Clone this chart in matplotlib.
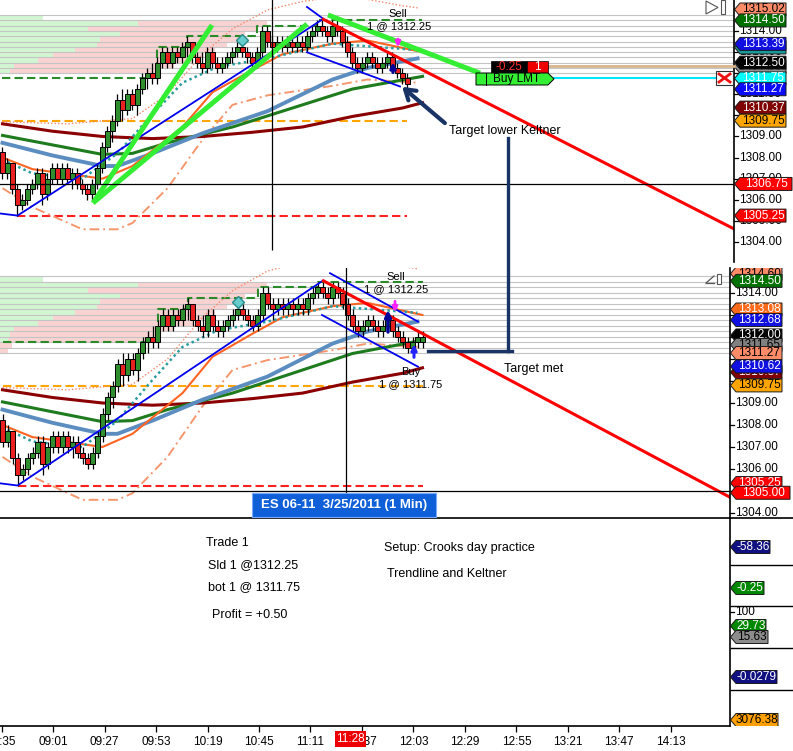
import matplotlib
matplotlib.use('Agg')
import matplotlib.pyplot as plt
from matplotlib.patches import Polygon, Rectangle
from matplotlib.lines import Line2D

plt.rcParams['font.family'] = ['Liberation Sans', 'DejaVu Sans']

# ---- candles (ES 06-11, 3/25/2011), one row per bar ----
opens = [1308.25, 1307.25, 1307.75, 1306.50, 1305.75, 1306.00, 1306.50, 1306.75, 1307.25, 1306.25,
         1307.00, 1307.50, 1307.00, 1307.50, 1307.00, 1307.25, 1306.75, 1306.50, 1306.25, 1306.75,
         1307.50, 1308.50, 1309.25, 1309.75, 1310.75, 1310.25, 1311.00, 1310.50, 1311.25, 1311.75,
         1312.00, 1311.75, 1312.50, 1313.00, 1312.50, 1313.00, 1312.75, 1313.25, 1313.50, 1312.75,
         1312.50, 1312.25, 1313.00, 1312.50, 1312.25, 1312.50, 1312.75, 1313.00, 1313.25, 1313.00,
         1312.75, 1312.50, 1313.00, 1314.00, 1313.50, 1313.25, 1313.50, 1313.25, 1313.50, 1313.25,
         1313.50, 1313.25, 1313.75, 1314.00, 1314.25, 1314.00, 1313.75, 1314.25, 1314.00, 1313.50,
         1313.00, 1312.50, 1312.25, 1312.50, 1312.75, 1312.50, 1312.25, 1312.50, 1312.75, 1312.25,
         1312.00, 1311.75, 1311.50, 1311.75, 1311.75]
highs = [1308.50, 1308.00, 1307.75, 1306.75, 1306.25, 1306.75, 1307.00, 1307.50, 1307.50, 1307.25,
         1307.75, 1307.75, 1307.75, 1307.75, 1307.50, 1307.50, 1307.00, 1306.75, 1307.00, 1307.75,
         1308.75, 1309.50, 1310.00, 1311.00, 1311.25, 1311.25, 1311.25, 1311.50, 1312.00, 1312.25,
         1312.50, 1312.75, 1313.25, 1313.25, 1313.25, 1313.25, 1313.50, 1313.75, 1313.50, 1313.00,
         1313.00, 1313.25, 1313.25, 1312.75, 1312.75, 1313.00, 1313.25, 1313.50, 1313.50, 1313.25,
         1313.00, 1313.25, 1314.25, 1314.25, 1313.75, 1313.75, 1313.75, 1313.75, 1313.75, 1313.75,
         1313.75, 1314.00, 1314.25, 1314.50, 1314.50, 1314.25, 1314.50, 1314.50, 1314.25, 1313.75,
         1313.25, 1312.75, 1312.75, 1313.00, 1313.00, 1312.75, 1312.75, 1313.00, 1313.00, 1312.50,
         1312.25, 1312.00, 1312.00, 1312.25, 1312.25]
lows = [1307.00, 1307.00, 1306.25, 1305.25, 1305.50, 1305.75, 1306.25, 1306.50, 1305.75, 1306.00,
        1306.75, 1306.75, 1306.75, 1306.75, 1306.50, 1306.50, 1306.25, 1306.00, 1306.00, 1306.50,
        1307.25, 1308.25, 1308.75, 1309.50, 1309.75, 1310.00, 1310.25, 1310.00, 1311.00, 1311.25,
        1311.50, 1311.50, 1312.25, 1312.25, 1312.25, 1312.50, 1312.50, 1312.75, 1312.50, 1312.25,
        1312.00, 1312.00, 1312.25, 1312.00, 1312.00, 1312.25, 1312.50, 1312.75, 1312.75, 1312.50,
        1312.25, 1312.25, 1312.75, 1313.25, 1312.75, 1313.00, 1313.00, 1313.00, 1313.00, 1313.00,
        1313.00, 1313.00, 1313.50, 1313.75, 1313.75, 1313.50, 1313.50, 1313.75, 1313.25, 1312.75,
        1312.25, 1312.00, 1312.00, 1312.25, 1312.25, 1312.00, 1312.00, 1312.25, 1312.00, 1311.75,
        1311.50, 1311.25, 1311.25, 1311.50, 1311.50]
closes = [1307.25, 1307.75, 1306.50, 1305.75, 1306.00, 1306.50, 1306.75, 1307.25, 1306.25, 1307.00,
          1307.50, 1307.00, 1307.50, 1307.00, 1307.25, 1306.75, 1306.50, 1306.25, 1306.75, 1307.50,
          1308.50, 1309.25, 1309.75, 1310.75, 1310.25, 1311.00, 1310.50, 1311.25, 1311.75, 1312.00,
          1311.75, 1312.50, 1313.00, 1312.50, 1313.00, 1312.75, 1313.25, 1313.50, 1312.75, 1312.50,
          1312.25, 1313.00, 1312.50, 1312.25, 1312.50, 1312.75, 1313.00, 1313.25, 1313.00, 1312.75,
          1312.50, 1313.00, 1314.00, 1313.50, 1313.25, 1313.50, 1313.25, 1313.50, 1313.25, 1313.50,
          1313.25, 1313.75, 1314.00, 1314.25, 1314.00, 1313.75, 1314.25, 1314.00, 1313.50, 1313.00,
          1312.50, 1312.25, 1312.50, 1312.75, 1312.50, 1312.25, 1312.50, 1312.75, 1312.25, 1312.00,
          1311.75, 1311.50, 1311.75, 1312.00, 1312.00]

# ---- indicator lines, (bar, price) vertices ----
ma_slow_x = [0, 10, 20, 30, 40, 50, 60, 70, 80, 84]
ma_slow_y = [1309.6, 1309.25, 1309.0, 1308.9, 1309.0, 1309.2, 1309.45, 1309.95, 1310.35, 1310.6]
ma_mid_x = [0, 10, 20, 26, 33, 46, 60, 70, 84]
ma_mid_y = [1309.05, 1308.6, 1308.15, 1308.2, 1308.7, 1309.45, 1310.5, 1311.25, 1311.85]
kelt_mid_x = [0, 10, 20, 23, 30, 40, 53, 66, 73, 83]
kelt_mid_y = [1308.7, 1308.1, 1307.6, 1307.6, 1308.2, 1309.15, 1310.2, 1311.7, 1312.25, 1312.7]
ema_x = [0, 6, 20, 26, 36, 42, 50, 56, 66, 73, 80, 84]
ema_y = [1308.0, 1307.45, 1307.0, 1307.6, 1309.45, 1311.1, 1312.15, 1312.9, 1313.4, 1313.55, 1313.2, 1313.0]
fast_x = [0, 6, 16, 23, 30, 36, 43, 53, 66, 83]
fast_y = [1307.9, 1307.25, 1307.0, 1308.2, 1310.05, 1311.55, 1312.3, 1312.7, 1313.4, 1313.1]
band_up_x = [0, 13, 26, 33, 40, 46, 53, 60, 66, 73, 80, 83]
band_up_y = [1309.7, 1309.6, 1309.85, 1311.0, 1312.9, 1314.1, 1315.0, 1315.4, 1315.6, 1315.5, 1315.2, 1315.1]
band_dn_x = [0, 6, 16, 23, 26, 33, 40, 46, 53, 66, 73, 83]
band_dn_y = [1306.55, 1305.65, 1304.6, 1304.6, 1304.9, 1306.55, 1308.85, 1310.5, 1310.95, 1311.4, 1311.7, 1311.55]
swing_hi_x = [0, 31, 37, 51, 63, 84]
swing_hi_y = [1311.75, 1313.25, 1313.75, 1314.25, 1314.5, 1314.5]
open_level = 1309.75
low_level = 1305.25

# ---- drawn trendlines ----
blue_up_x = [-0.5, 3.0, 64.0]
blue_up_y = [1305.35, 1305.25, 1314.55]
red_tl_x = [64.2, 146.3]
red_tl_y = [1314.55, 1304.62]

# ---- volume profile (upper edge of each 0.25 row) ----
prof_top = [1314.75, 1314.50, 1314.25, 1314.00, 1313.75, 1313.50, 1313.25,
            1313.00, 1312.75, 1312.50, 1312.25, 1312.00, 1311.75, 1311.50]
buy_vol = [430, 1380, 880, 1200, 1000, 970, 750, 530, 380, 140, 100, 80, 0, 0]
sell_vol = [0, 1290, 1700, 1250, 1400, 1300, 1400, 1500, 1550, 1600, 1500, 1400, 120, 80]

times = [515, 541, 567, 593, 619, 645, 671, 697, 723, 749, 775, 801, 827, 853]

W, H = 793, 751
fig = plt.figure(figsize=(W / 100, H / 100), dpi=100)
fig.patch.set_facecolor('white')

UP, DN = '#2f8f2f', '#e82020'


def px_axes(x, y, w, h, z=1):
    return fig.add_axes([x / W, 1 - (y + h) / H, w / W, h / H], zorder=z)


def frect(x, y, w, h, **kw):
    fig.add_artist(Rectangle((x / W, 1 - (y + h) / H), w / W, h / H,
                             transform=fig.transFigure, zorder=6, **kw))


def fpoly(pts, **kw):
    fig.add_artist(Polygon([(x / W, 1 - y / H) for x, y in pts],
                           transform=fig.transFigure, zorder=6, **kw))


def fline(xs, ys, **kw):
    fig.add_artist(Line2D([x / W for x in xs], [1 - y / H for y in ys],
                          transform=fig.transFigure, zorder=6, **kw))


def ftext(x, y, s, **kw):
    kw.setdefault('fontsize', 9)
    kw.setdefault('va', 'center')
    fig.text(x / W, 1 - y / H, s, zorder=7, **kw)


def price_panel(rect, ylim, nbars, nrows):
    x, y, w, h = rect
    xlim = (-0.5, -0.5 + w / 5)
    pa = px_axes(x, y, w, h, z=0)
    pa.set_xlim(0, w * 10)
    pa.set_ylim(*ylim)
    pa.axis('off')
    for i in range(nrows):
        yc = prof_top[i] - 0.125
        pa.barh(yc, buy_vol[i], height=0.25, left=0, color='#d2f5d2', lw=0)
        pa.barh(yc, sell_vol[i], height=0.25, left=buy_vol[i], color='#f9d2d2', lw=0)
    for p in prof_top[:nrows] + [prof_top[nrows - 1] - 0.25]:
        pa.axhline(p, color='#c4c4c4', lw=0.8)

    ax = px_axes(x, y, w, h, z=1)
    ax.patch.set_alpha(0)
    ax.set_xlim(*xlim)
    ax.set_ylim(*ylim)
    ax.axis('off')
    n = nbars
    ax.hlines(open_level, 0, n - 1, color='#ffa500', lw=1.5, ls=(0, (4, 2)), zorder=2)
    ax.hlines(low_level, 3, n - 1, color='#ff2020', lw=1.5, ls=(0, (4, 2)), zorder=2)
    ax.step(swing_hi_x, swing_hi_y, where='post', color='#2a8a2a', lw=1.5, ls=(0, (4, 2)), zorder=2)
    ax.plot(band_up_x, band_up_y, color='#f28a6c', lw=1.0, ls=(0, (1, 1.5)), zorder=3)
    ax.plot(band_dn_x, band_dn_y, color='#f4966e', lw=1.4, ls=(0, (5, 2, 1, 2)), zorder=3)
    ax.plot(ma_slow_x, ma_slow_y, color='#8b0000', lw=2.2, zorder=3)
    ax.plot(ma_mid_x, ma_mid_y, color='#1e7b1e', lw=2.2, zorder=3)
    ax.plot(kelt_mid_x, kelt_mid_y, color='#5b8dc0', lw=2.8, zorder=3)
    ax.plot(ema_x, ema_y, color='#ff6422', lw=1.5, zorder=3)
    ax.plot(fast_x, fast_y, color='#2a9d9d', lw=1.8, ls=(0, (1, 1.3)), zorder=3)

    ax.vlines(range(n), lows[:n], highs[:n], color='black', lw=0.9, zorder=4)
    for i in range(n):
        o, c = opens[i], closes[i]
        ax.bar(i, abs(c - o), bottom=min(o, c), width=0.82,
               color=UP if c > o else DN, edgecolor='black', lw=0.7, zorder=5)

    ax.plot(blue_up_x, blue_up_y, color='#0000ee', lw=1.3, zorder=6)
    ax.plot(red_tl_x, red_tl_y, color='#ff0000', lw=2.2, zorder=7)
    return ax


def tag_axes(rect, ylim):
    x, y, w, h = rect
    t = px_axes(x, y, w, h, z=2)
    t.set_xlim(0, w)
    t.set_ylim(*ylim)
    for s in ('top', 'right', 'bottom'):
        t.spines[s].set_visible(False)
    t.spines['left'].set_linewidth(1.2)
    t.set_xticks([])
    t.set_yticks([])
    t.patch.set_alpha(0)
    return t


def ticks(t, vals, labels=None):
    labels = labels or ['{:.2f}'.format(v) for v in vals]
    for v, s in zip(vals, labels):
        t.plot([0, 4], [v, v], color='black', lw=0.9, clip_on=False, zorder=0.5)
        t.text(5, v, s, fontsize=8.5, va='center', ha='left', zorder=0.6)


def draw_tags(t, ys, labels, fcs, tcs, hh, widths):
    for k, (y, s, fc, tc, w) in enumerate(zip(ys, labels, fcs, tcs, widths)):
        z = 2 + 2 * k
        pts = [(0.5, y), (6, y + hh), (w, y + hh), (w, y - hh), (6, y - hh)]
        t.add_patch(Polygon(pts, closed=True, fc=fc, ec='#1a1a1a', lw=0.7, zorder=z))
        t.text(6 + (w - 6) / 2, y, s, color=tc, fontsize=8.5, ha='center', va='center', zorder=z + 1)


# ================= top panel (before the exit) =================
top_ylim = (1303.05, 1315.47)
ax1 = price_panel((0, 0, 734, 262), top_ylim, 82, 11)
ax1.plot([60.9, 64.5], [1315.14, 1314.52], color='#0000ee', lw=1.3, zorder=6)
ax1.plot([60.9, 79.5], [1312.99, 1311.37], color='#0000ee', lw=1.3, zorder=6)
ax1.plot([18.1, 41.9], [1305.85, 1314.28], color='#33ee33', lw=3.6, zorder=8, solid_capstyle='butt')
ax1.plot([18.1, 60.9], [1305.85, 1314.33], color='#33ee33', lw=3.6, zorder=8, solid_capstyle='butt')
ax1.plot([65.1, 95.5], [1314.76, 1312.0], color='#33ee33', lw=3.6, zorder=8, solid_capstyle='butt')
ax1.vlines(53.9, 1303.62, 1316, color='black', lw=0.9, zorder=9)
ax1.axhline(1306.75, color='black', lw=0.9, zorder=9)
ax1.plot(47.9, 1313.57, 'D', ms=6, mfc='#66cccc', mec='#2a8a8a', zorder=9)
ax1.annotate('', xy=(79.1, 1313.1), xytext=(79.1, 1313.75),
             arrowprops=dict(arrowstyle='-|>', color='#ff22ff', lw=2, mutation_scale=7), zorder=9)
ax1.annotate('', xy=(78.1, 1312.65), xytext=(78.1, 1311.9),
             arrowprops=dict(arrowstyle='-|>', color='#000099', lw=2.2, mutation_scale=8), zorder=9)
ax1.annotate('', xy=(79.5, 1311.44), xytext=(88.9, 1309.55),
             arrowprops=dict(arrowstyle='->,head_length=0.7,head_width=0.45', color='#1a3366', lw=3),
             zorder=9)

t1 = tag_axes((734, 0, 59, 262), top_ylim)
ticks(t1, [1314, 1313, 1312, 1311, 1310, 1309, 1308, 1307, 1306, 1305, 1304])
top_tag_y = [1315.02, 1314.50, 1313.22, 1313.39, 1312.30, 1312.50, 1311.75, 1311.24, 1310.37, 1309.75, 1306.75, 1305.25]
top_tag_txt = ['1315.02', '1314.50', '1313.22', '1313.39', '1312.30', '1312.50', '1311.75', '1311.27',
               '1310.37', '1309.75', '1306.75', '1305.25']
top_tag_fc = ['#ff8c69', '#007000', '#1a9a9a', '#1010e0', '#909090', '#000000', '#00ffff', '#0a0aff',
              '#800000', '#ffa500', '#ff0000', '#ff0000']
top_tag_tc = ['black', 'white', 'white', 'white', 'white', 'white', 'white', 'white',
              'white', 'black', 'white', 'white']
draw_tags(t1, top_tag_y, top_tag_txt, top_tag_fc, top_tag_tc, 6.5 / 21.1,
          [58 if s == '1306.75' else 52 for s in top_tag_txt])

# ================= lower panel (target met) =================
low_ylim = (1303.773, 1315.136)
ax2 = price_panel((0, 268, 730, 250), low_ylim, 85, 14)
ax2.plot([65.5, 83.1], [1314.9, 1312.7], color='#0000ee', lw=1.3, zorder=6)
ax2.plot([63.9, 83.1], [1313.0, 1310.65], color='#0000ee', lw=1.3, zorder=6)
ax2.vlines(68.7, 1303.0, 1316, color='black', lw=0.9, zorder=9)
ax2.axhline(1305.0, color='black', lw=0.9, zorder=9)
ax2.plot(47.1, 1313.6, 'D', ms=6, mfc='#66cccc', mec='#2a8a8a', zorder=9)
ax2.annotate('', xy=(78.5, 1313.0), xytext=(78.5, 1313.75),
             arrowprops=dict(arrowstyle='-|>', color='#ff22ff', lw=2, mutation_scale=7), zorder=9)
ax2.annotate('', xy=(77.1, 1313.35), xytext=(77.1, 1312.1),
             arrowprops=dict(arrowstyle='-|>', color='#000099', lw=2.4, mutation_scale=9), zorder=9)
ax2.annotate('', xy=(82.3, 1311.8), xytext=(82.3, 1310.95),
             arrowprops=dict(arrowstyle='-|>', color='#2222ff', lw=2.2, mutation_scale=8), zorder=9)

t2 = tag_axes((730, 268, 63, 250), low_ylim)
ticks(t2, [1314, 1313, 1312, 1311, 1310, 1309, 1308, 1307, 1306, 1305, 1304])
low_tag_y = [1314.88, 1314.55, 1313.25, 1312.77, 1312.07, 1311.64, 1311.27, 1310.40, 1310.66, 1309.80, 1305.36, 1304.92]
low_tag_txt = ['1314.60', '1314.50', '1313.08', '1312.68', '1312.00', '1311.65', '1311.27', '1310.37',
               '1310.62', '1309.75', '1305.25', '1305.00']
low_tag_fc = ['#ff8c69', '#007000', '#ff6a1a', '#1010e0', '#000000', '#808080', '#ff8c69', '#800000',
              '#1010e0', '#ffa500', '#ff0000', '#ff0000']
low_tag_tc = ['black', 'white', 'white', 'white', 'white', 'black', 'black', 'white',
              'white', 'black', 'white', 'white']
draw_tags(t2, low_tag_y, low_tag_txt, low_tag_fc, low_tag_tc, 6.5 / 22,
          [60 if s == '1305.00' else 52 for s in low_tag_txt])

# ================= indicator strip + time axis =================
axt = px_axes(0, 518, 730, 208, z=1)
axt.set_xlim(514.2, 514.2 + 730 / 1.98)
axt.set_ylim(0, 1)
for s in ('top', 'right', 'left'):
    axt.spines[s].set_visible(False)
axt.spines['bottom'].set_linewidth(1.2)
axt.set_yticks([])
axt.set_xticks(times)
axt.set_xticklabels(['%02d:%02d' % (m // 60, m % 60) for m in times], fontsize=8.5)
axt.tick_params(axis='x', length=4, width=0.9, pad=3)

t3 = tag_axes((730, 518, 63, 208), (208, 0))
t3.hlines([47, 88, 130, 172], 0, 63, color='black', lw=1)
ticks(t3, [94], ['100'])
ind_y = [29, 70, 108, 119, 159, 202]
ind_txt = ['-58.36', '-0.25', '29.73', '15.63', '-0.0279', '3076.38']
ind_fc = ['#101080', '#008800', '#008800', '#8c8c8c', '#101080', '#ffa000']
ind_tc = ['white', 'white', 'white', 'black', 'white', 'black']
ind_w = [40, 34, 36, 38, 47, 48]
draw_tags(t3, ind_y, ind_txt, ind_fc, ind_tc, 6.5, ind_w)

fline([0, 793], [518, 518], color='black', lw=1.2)

# ================= order widgets, notes =================
fline([548, 734], [66, 66], color='#d8b48c', lw=2)
fline([554, 716], [78, 78], color='#00e5ff', lw=1.5)
frect(491, 61, 36, 12, fc='black', ec='black', lw=0.5)
ftext(509, 67, '-0.25', color='#ff3030', ha='center', fontsize=8.5)
frect(527, 61, 21, 12, fc='#ee0000', ec='black', lw=0.5)
ftext(537.5, 67, '1', color='white', ha='center', fontsize=8.5)
fpoly([(476, 73), (548, 73), (554, 79), (548, 85), (476, 85)], fc='#33ee33', ec='black', lw=0.7)
fline([486, 486], [73, 85], color='black', lw=0.7)
ftext(517, 79, 'Buy LMT', ha='center', fontsize=8.5)
frect(716, 71, 17, 14, fc='white', ec='#333333', lw=0.8)
fline([719, 730], [74, 82], color='#ee1111', lw=2)
fline([719, 730], [82, 74], color='#ee1111', lw=2)
fpoly([(706, 1), (706, 14), (718, 7.5)], fc='white', ec='#555555', lw=0.8)
frect(721, 0, 4, 14, fc='white', ec='#555555', lw=0.8)
fline([706, 714], [283, 276], color='#555555', lw=0.9)
fline([706, 714], [283, 283], color='#555555', lw=0.9)
frect(717, 274, 4, 10, fc='white', ec='#555555', lw=0.8)

fline([508, 508], [138, 351], color='#1a3366', lw=2.4)
fline([428, 512], [351, 351], color='#1a3366', lw=2.4)

ftext(398, 14, 'Sell', ha='center', fontsize=8)
ftext(399, 26, '1 @ 1312.25', ha='center', fontsize=8)
ftext(505, 131, 'Target lower Keltner', ha='center', fontsize=9)
ftext(396, 277, 'Sell', ha='center', fontsize=8)
ftext(396, 289, '1 @ 1312.25', ha='center', fontsize=8)
ftext(411, 372, 'Buy', ha='center', fontsize=8)
ftext(411, 384, '1 @ 1311.75', ha='center', fontsize=8)
ftext(534, 369, 'Target met', ha='center', fontsize=9)

frect(252, 493, 184, 24, fc='#0e5fd8', ec='#7aa8ff', lw=0.8)
ftext(344, 505, 'ES 06-11  3/25/2011 (1 Min)', ha='center', color='white',
      fontsize=9.5, fontweight='bold')

ftext(206, 543, 'Trade 1')
ftext(208, 565, 'Sld 1 @1312.25')
ftext(208, 587, 'bot 1 @ 1311.75')
ftext(212, 615, 'Profit = +0.50')
ftext(384, 548, 'Setup: Crooks day practice')
ftext(387, 574, 'Trendline and Keltner')

frect(335, 731, 31, 16, fc='#ee0000', ec='none')
ftext(350.5, 739, '11:28', ha='center', color='white', fontsize=8.5)

fig.savefig('out.png', dpi=100, facecolor='white')
